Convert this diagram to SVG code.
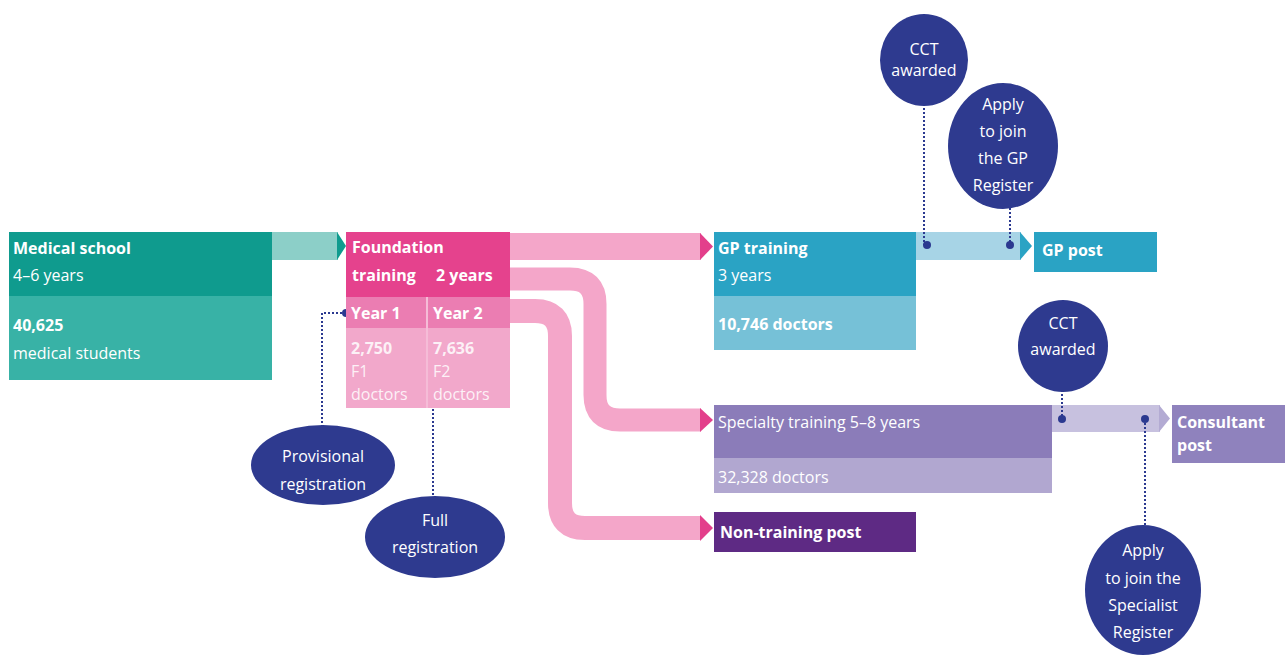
<svg xmlns="http://www.w3.org/2000/svg" width="1285" height="655" viewBox="0 0 1285 655">
<defs>
<style>
text{font-family:"Open Sans","Noto Sans","DejaVu Sans",sans-serif;fill:#fff;font-size:16px}
.b{font-weight:bold}
.c{text-anchor:middle}
.dot{fill:#2b3990}
.dl{stroke:#2b3990;stroke-width:2;stroke-dasharray:2 2;fill:none}
.circ{fill:#2e3a8f}
.band{fill:none;stroke:#f4a6c9}
</style>
</defs>
<rect width="1285" height="655" fill="#fff"/>
<g id="connectors">
<rect x="272" y="232" width="66" height="28" fill="#8ccfc8"/>
<polygon points="337,232 346,246 337,260" fill="#0f9b8e"/>
<rect x="510" y="233" width="191" height="27" fill="#f4a6c9"/>
<path class="band" stroke-width="23" d="M510,279 H570 Q595,279 595,304 V395 Q595,420 620,420 H701"/>
<path class="band" stroke-width="24" d="M510,311 H535 Q560,311 560,336 V503 Q560,528 585,528 H701"/>
<polygon points="700,233 713,246.5 700,260" fill="#e33f8b"/>
<polygon points="700,408 713,420 700,432" fill="#e33f8b"/>
<polygon points="700,515 713,528 700,541" fill="#e33f8b"/>
<rect x="916" y="232" width="105" height="28" fill="#a7d4e6"/>
<polygon points="1020,232 1032,246 1020,260" fill="#2aa3c4"/>
<rect x="1052" y="405" width="108" height="27" fill="#c7c1df"/>
<polygon points="1159,405 1170,418.5 1159,432" fill="#b3abd3"/>
<path class="dl" d="M924,104 V245"/>
<path class="dl" d="M1010,208 V245"/>
<path class="dl" d="M1062,390 V419"/>
<path class="dl" d="M1145,419 V526"/>
<path class="dl" d="M346,313 H322 V426"/>
<path class="dl" d="M433,313 V498"/>
<circle class="dot" cx="927" cy="245" r="4"/>
<circle class="dot" cx="1010" cy="245" r="4"/>
<circle class="dot" cx="1062" cy="419" r="4"/>
<circle class="dot" cx="1145" cy="419" r="4"/>
<circle class="dot" cx="346" cy="313" r="4"/>
<circle class="dot" cx="433" cy="313" r="4"/>
</g>
<g id="medical-school">
<rect x="9" y="232" width="263" height="64" fill="#0f9b8e"/>
<rect x="9" y="296" width="263" height="84" fill="#38b2a6"/>
<text x="13" y="254" class="b">Medical school</text>
<text x="13" y="281">4–6 years</text>
<text x="13" y="331" class="b">40,625</text>
<text x="13" y="359">medical students</text>
</g>
<g id="foundation">
<rect x="346" y="232" width="164" height="65" fill="#e5428d"/>
<rect x="346" y="297" width="80" height="31" fill="#eb7db2"/>
<rect x="428" y="297" width="82" height="31" fill="#eb7db2"/>
<rect x="346" y="328" width="80" height="80" fill="#f2a8cb"/>
<rect x="428" y="328" width="82" height="80" fill="#f2a8cb"/>
<rect x="426" y="297" width="2" height="111" fill="#f5bcd7"/>
<text x="352" y="253" class="b">Foundation</text>
<text x="352" y="281" class="b">training<tspan x="436">2 years</tspan></text>
<text x="351" y="319" class="b">Year 1</text>
<text x="433" y="319" class="b">Year 2</text>
<text x="351" y="354" class="b" fill-opacity="0.85">2,750</text>
<text x="351" y="377" fill-opacity="0.85">F1</text>
<text x="351" y="400" fill-opacity="0.85">doctors</text>
<text x="433" y="354" class="b" fill-opacity="0.85">7,636</text>
<text x="433" y="377" fill-opacity="0.85">F2</text>
<text x="433" y="400" fill-opacity="0.85">doctors</text>
</g>
<g id="gp-training">
<rect x="714" y="232" width="202" height="64" fill="#2aa3c4"/>
<rect x="714" y="296" width="202" height="54" fill="#76c1d7"/>
<text x="718" y="254" class="b">GP training</text>
<text x="718" y="281">3 years</text>
<text x="718" y="330" class="b">10,746 doctors</text>
</g>
<g id="gp-post">
<rect x="1034" y="232" width="123" height="40" fill="#2aa3c4"/>
<text x="1042" y="256" class="b">GP post</text>
</g>
<g id="specialty-training">
<rect x="714" y="405" width="338" height="53" fill="#8b7cb9"/>
<rect x="714" y="458" width="338" height="35" fill="#b1a7d0"/>
<text x="718" y="428">Specialty training 5–8 years</text>
<text x="718" y="483">32,328 doctors</text>
</g>
<g id="consultant-post">
<rect x="1172" y="405" width="113" height="58" fill="#8f82bd"/>
<text x="1177" y="428" class="b">Consultant</text>
<text x="1177" y="451" class="b">post</text>
</g>
<g id="non-training-post">
<rect x="714" y="512" width="202" height="40" fill="#5e2a84"/>
<text x="720" y="538" class="b">Non-training post</text>
</g>
<g id="cct-gp">
<ellipse class="circ" cx="924" cy="60" rx="44" ry="46"/>
<text x="924" y="55" class="c">CCT</text>
<text x="924" y="76" class="c">awarded</text>
</g>
<g id="apply-gp">
<ellipse class="circ" cx="1003" cy="146" rx="55" ry="63"/>
<text x="1003" y="110" class="c">Apply</text>
<text x="1003" y="137" class="c">to join</text>
<text x="1003" y="164" class="c">the GP</text>
<text x="1003" y="191" class="c">Register</text>
</g>
<g id="cct-specialist">
<ellipse class="circ" cx="1063" cy="346" rx="45" ry="46"/>
<text x="1063" y="329" class="c">CCT</text>
<text x="1063" y="355" class="c">awarded</text>
</g>
<g id="apply-specialist">
<ellipse class="circ" cx="1143" cy="590" rx="58" ry="65"/>
<text x="1143" y="556" class="c">Apply</text>
<text x="1143" y="584" class="c">to join the</text>
<text x="1143" y="611" class="c">Specialist</text>
<text x="1143" y="638" class="c">Register</text>
</g>
<g id="provisional-registration">
<ellipse class="circ" cx="323" cy="465" rx="72" ry="40"/>
<text x="323" y="462" class="c">Provisional</text>
<text x="323" y="490" class="c">registration</text>
</g>
<g id="full-registration">
<ellipse class="circ" cx="435" cy="537" rx="70" ry="41"/>
<text x="435" y="526" class="c">Full</text>
<text x="435" y="553" class="c">registration</text>
</g>
</svg>
